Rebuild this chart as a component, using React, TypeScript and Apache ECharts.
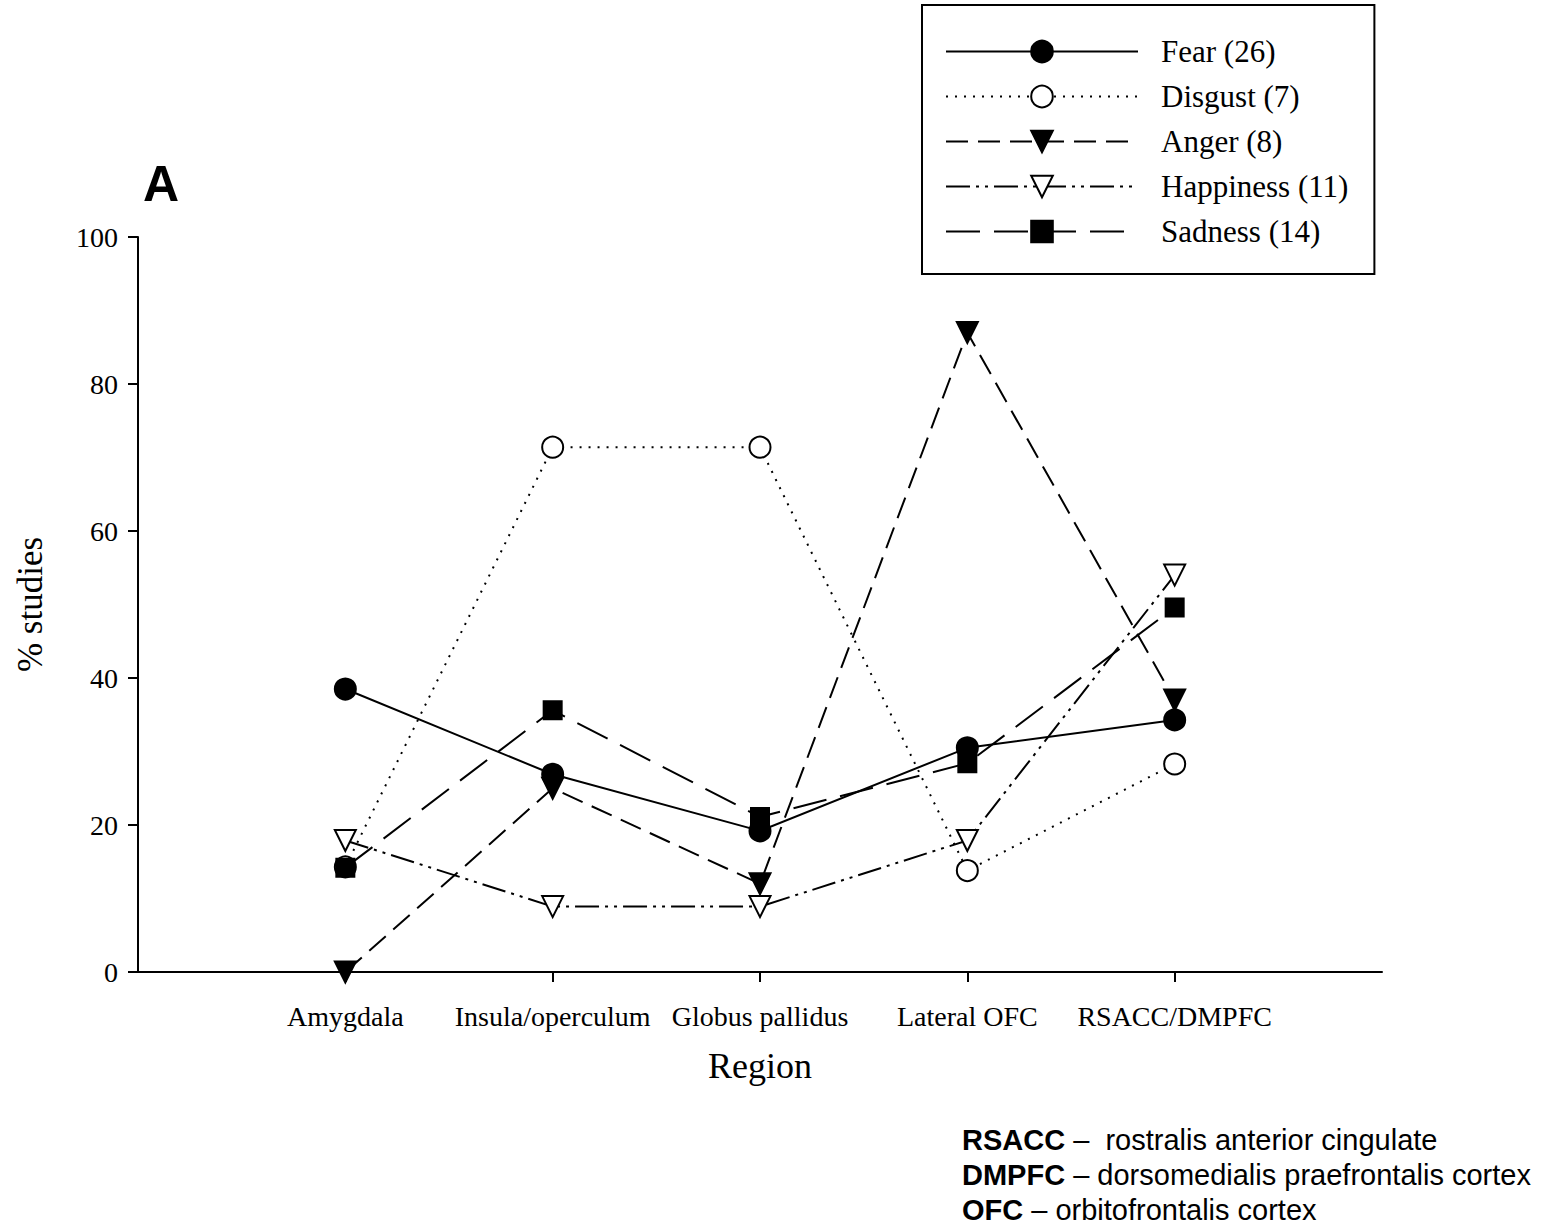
import React, { useEffect, useRef } from "react";
import * as echarts from "echarts";

const categories = ["", "Amygdala", "Insula/operculum", "Globus pallidus", "Lateral OFC", "RSACC/DMPFC", ""];
const fear = [null, 38.5, 26.9, 19.2, 30.5, 34.3, null];
const disgust = [null, 14.3, 71.4, 71.4, 13.8, 28.3, null];
const anger = [null, 0, 25.0, 12.0, 87.0, 37.0, null];
const happiness = [null, 17.9, 8.9, 8.9, 17.9, 54.0, null];
const sadness = [null, 14.2, 35.6, 21.1, 28.4, 49.6, null];
const yTicks = [0, 20, 40, 60, 80, 100];

const serif = "Liberation Serif";
const sans = "Liberation Sans";

export default function App() {
  const ref = useRef<HTMLDivElement>(null);
  useEffect(() => {
    const chart = echarts.init(ref.current!, null, { renderer: "svg" });
    const base = (name: string, data: any[], symbol: string, filled: boolean, dash: any, rotate = 0) => ({
      name,
      type: "line",
      data,
      symbol,
      symbolSize: symbol === "rect" ? 18 : 21,
      symbolRotate: rotate,
      showAllSymbol: true,
      connectNulls: false,
      lineStyle: { color: "#000", width: 2, type: dash },
      itemStyle: { color: filled ? "#000" : "#fff", borderColor: "#000", borderWidth: 2, opacity: 1 },
      emphasis: { disabled: true },
    });
    chart.setOption({
      animation: false,
      backgroundColor: "#fff",
      grid: { left: 138, right: 171, top: 237, bottom: 256, containLabel: false },
      xAxis: {
        type: "category",
        data: categories,
        boundaryGap: false,
        name: "Region",
        nameLocation: "middle",
        nameGap: 76,
        nameTextStyle: { fontFamily: serif, fontSize: 36, color: "#000" },
        axisLine: { lineStyle: { color: "#000", width: 2 } },
        axisTick: {
          length: 10,
          lineStyle: { color: "#000", width: 2 },
          interval: (i: number) => i > 0 && i < categories.length - 1,
        },
        axisLabel: { fontFamily: serif, fontSize: 28, color: "#000", margin: 30, interval: 0 },
        splitLine: { show: false },
      },
      yAxis: {
        type: "value",
        min: 0,
        max: 100,
        interval: 20,
        name: "% studies",
        nameLocation: "middle",
        nameGap: 90,
        nameTextStyle: { fontFamily: serif, fontSize: 35, color: "#000" },
        axisLine: { show: true, lineStyle: { color: "#000", width: 2 } },
        axisTick: { show: true, length: 10, lineStyle: { color: "#000", width: 2 } },
        axisLabel: {
          fontFamily: serif,
          fontSize: 28,
          color: "#000",
          margin: 20,
          formatter: (v: number) => (yTicks.includes(v) ? String(v) : ""),
        },
        splitLine: { show: false },
      },
      legend: {
        orient: "vertical",
        left: 922,
        top: 5,
        padding: [31, 26, 27, 23],
        itemWidth: 192,
        itemHeight: 27,
        itemGap: 14,
        borderColor: "#000",
        borderWidth: 2,
        backgroundColor: "#fff",
        selectedMode: false,
        textStyle: { fontFamily: serif, fontSize: 31, color: "#000", padding: [0, 0, 0, 18] },
        data: ["Fear (26)", "Disgust (7)", "Anger (8)", "Happiness (11)", "Sadness (14)"],
      },
      graphic: [
        {
          type: "text",
          left: 143,
          top: 159,
          style: { text: "A", font: `bold 50px ${sans}`, fill: "#000" },
        },
        {
          type: "text",
          left: 962,
          top: 1122,
          style: {
            text:
              "{b|RSACC} –  rostralis anterior cingulate\n{b|DMPFC} – dorsomedialis praefrontalis cortex\n{b|OFC} – orbitofrontalis cortex",
            font: `29px ${sans}`,
            fill: "#000",
            lineHeight: 35,
            rich: {
              b: { fontFamily: sans, fontWeight: "bold", fontSize: 29, fill: "#000", lineHeight: 35 },
            },
          },
        },
      ],
      series: [
        base("Disgust (7)", disgust, "circle", false, [2, 7]),
        base("Happiness (11)", happiness, "triangle", false, [24, 6, 3, 6, 3, 6], 180),
        base("Sadness (14)", sadness, "rect", true, [34, 14]),
        base("Anger (8)", anger, "triangle", true, [22, 10], 180),
        base("Fear (26)", fear, "circle", true, "solid"),
      ],
    });
    return () => chart.dispose();
  }, []);
  return <div ref={ref} style={{ position: "absolute", left: 0, top: 0, width: 1553, height: 1228 }} />;
}
